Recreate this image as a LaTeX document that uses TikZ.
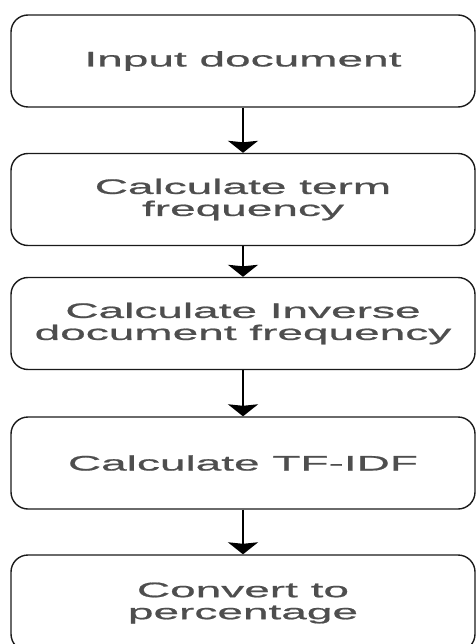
\documentclass[tikz,border=0pt]{standalone}
\usepackage{fontspec}
\setmainfont{Liberation Sans}[FakeStretch=2.19,FakeBold=0.9]
\usetikzlibrary{arrows.meta}
\definecolor{txtgray}{HTML}{4E4E4E}
\definecolor{edge}{HTML}{1A1A1A}
\begin{document}
\begin{tikzpicture}[x=1pt,y=-1pt,
  stepbox/.style={draw=edge, line width=1.4pt, rounded corners=17pt,
    minimum width=464pt, minimum height=92pt, inner sep=0pt,
    align=center, text=txtgray, font=\fontsize{21}{22}\selectfont},
  arr/.style={draw=black, line width=1.9pt,
    -{Stealth[length=12pt, width=30pt, inset=1.5pt]}}]
\useasboundingbox (0,0) rectangle (475,644);
\node[stepbox] (n1) at (243,61)    {Input document};
\node[stepbox] (n2) at (243,199.5) {Calculate term\\frequency};
\node[stepbox] (n3) at (243,323.5) {Calculate Inverse\\document frequency};
\node[stepbox] (n4) at (243,463)   {Calculate TF-IDF};
\node[stepbox, minimum height=96pt] (n5) at (243,603) {Convert to\\percentage};
\draw[arr] (n1.south) -- (n2.north);
\draw[arr] (n2.south) -- (n3.north);
\draw[arr] (n3.south) -- (n4.north);
\draw[arr] (n4.south) -- (n5.north);
\end{tikzpicture}
\end{document}
